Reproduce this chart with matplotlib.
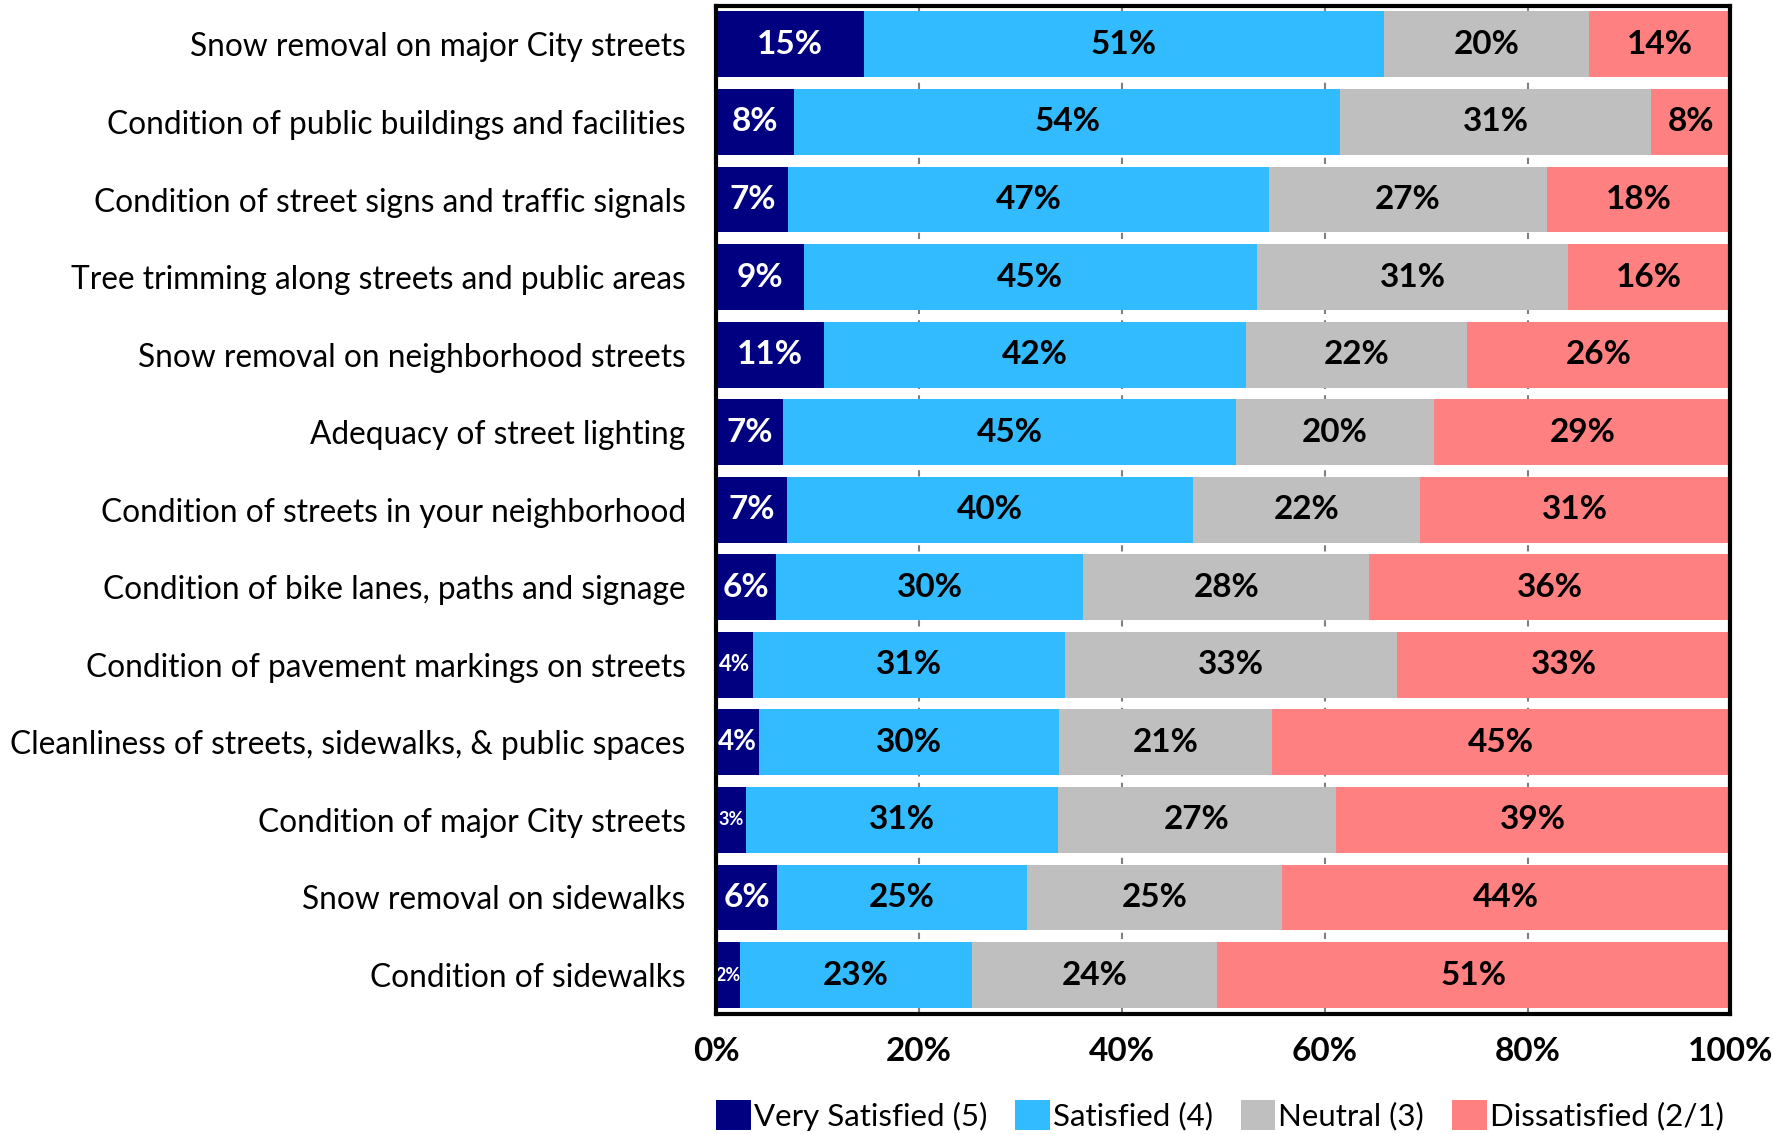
import numpy as np
import matplotlib
matplotlib.use("Agg")
import matplotlib.pyplot as plt

plt.rcParams['font.family'] = ['Lato', 'DejaVu Sans']

# categories, top to bottom
items = [
    "Snow removal on major City streets",
    "Condition of public buildings and facilities",
    "Condition of street signs and traffic signals",
    "Tree trimming along streets and public areas",
    "Snow removal on neighborhood streets",
    "Adequacy of street lighting",
    "Condition of streets in your neighborhood",
    "Condition of bike lanes, paths and signage",
    "Condition of pavement markings on streets",
    "Cleanliness of streets, sidewalks, & public spaces",
    "Condition of major City streets",
    "Snow removal on sidewalks",
    "Condition of sidewalks",
]

very_satisfied = [14.6, 7.7, 7.1, 8.6, 10.6, 6.6, 7.0, 5.9, 3.6, 4.2, 2.9, 6.0, 2.3]
satisfied      = [51.2, 53.8, 47.4, 44.7, 41.6, 44.6, 40.0, 30.3, 30.8, 29.6, 30.8, 24.6, 22.9]
neutral        = [20.3, 30.7, 27.4, 30.7, 21.8, 19.6, 22.4, 28.2, 32.7, 21.0, 27.4, 25.2, 24.2]
dissatisfied   = [13.9, 7.8, 18.1, 16.0, 26.0, 29.2, 30.6, 35.6, 32.9, 45.2, 38.9, 44.2, 50.6]

series = [very_satisfied, satisfied, neutral, dissatisfied]
names = ["Very Satisfied (5)", "Satisfied (4)", "Neutral (3)", "Dissatisfied (2/1)"]
colors = ["#000080", "#33BBFF", "#BFBFBF", "#FF8080"]
text_colors = ["white", "black", "black", "black"]

fig = plt.figure(figsize=(17.73, 11.34), dpi=100)
ax = fig.add_axes([0.404, 0.106, 0.572, 0.889])

y = np.arange(len(items))
left = np.zeros(len(items))
for vals, name, col, tc in zip(series, names, colors, text_colors):
    vals = np.array(vals)
    ax.barh(y, vals, left=left, height=0.85, color=col, label=name, zorder=2)
    for yi, (l, v) in enumerate(zip(left, vals)):
        if v < 3.0:
            fs = 13
        elif v < 4.0:
            fs = 16
        elif v < 5.0:
            fs = 20
        else:
            fs = 24
        ax.text(l + v / 2, yi, "%.0f%%" % v, ha="center", va="center",
                color=tc, fontsize=fs, fontweight="bold", zorder=3)
    left += vals

ax.set_xlim(0, 100)
ax.set_ylim(len(items) - 0.5, -0.5)
ax.set_yticks(y)
ax.set_yticklabels(items, fontsize=22.8)
ax.set_xticks(np.arange(0, 101, 20))
ax.set_xticklabels(["%d%%" % t for t in range(0, 101, 20)], fontsize=24, fontweight="bold")
ax.tick_params(axis="both", length=0)
ax.tick_params(axis="y", pad=22)
ax.tick_params(axis="x", pad=17)
ax.grid(axis="x", color="#808080", linestyle=(0, (3, 3)), linewidth=1.5, zorder=1)
ax.set_axisbelow(True)
for s in ax.spines.values():
    s.set_linewidth(3)
    s.set_color("black")
    s.set_zorder(4)

fig.legend(loc="lower center", bbox_to_anchor=(0.688, -0.022), ncol=4, frameon=False,
           fontsize=22.5, handlelength=1.1, handleheight=1.1, handletextpad=0.1,
           columnspacing=0.9)

fig.savefig("out.png", dpi=100)
